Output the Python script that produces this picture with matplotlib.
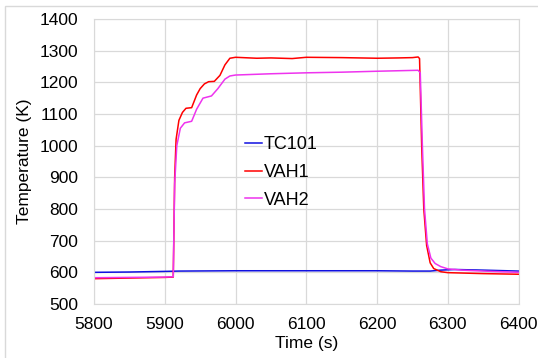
#!/usr/bin/env python3
"""
    Temperature traces TC101 / VAH1 / VAH2 vs time
"""

import numpy as np
from matplotlib import pyplot as plt
from matplotlib.patches import Rectangle

plt.rcParams['font.family'] = ['Liberation Sans', 'DejaVu Sans']

# TC101 (blue)
tc_t = [5800, 5850, 5900, 5920, 6000, 6100, 6200, 6250, 6275, 6290, 6310, 6350, 6400]
tc_T = [600, 601, 603, 604, 605, 605, 605, 604, 604, 607, 609, 607, 604]

# VAH1 (red)
v1_t = [5800, 5850, 5900, 5912, 5914, 5916, 5920, 5925, 5930, 5938, 5945, 5950,
        5956, 5962, 5970, 5978, 5985, 5992, 6000, 6030, 6050, 6080, 6100, 6150,
        6200, 6230, 6250, 6258, 6260, 6263, 6266, 6270, 6275, 6280, 6290, 6300,
        6350, 6400]
v1_T = [580, 582, 584, 585, 900, 1020, 1080, 1105, 1118, 1120, 1160, 1180,
        1195, 1202, 1203, 1222, 1255, 1276, 1279, 1276, 1277, 1275, 1279, 1278,
        1276, 1277, 1278, 1280, 1275, 1000, 800, 685, 630, 612, 602, 599,
        596, 594]

# VAH2 (magenta)
v2_t = [5800, 5900, 5912, 5914, 5917, 5922, 5928, 5938, 5945, 5954, 5966, 5975,
        5985, 5992, 6000, 6050, 6100, 6150, 6200, 6258, 6261, 6264, 6267, 6271,
        6276, 6282, 6290, 6300, 6320, 6350, 6400]
v2_T = [583, 585, 586, 880, 1000, 1055, 1072, 1077, 1115, 1150, 1157, 1180,
        1210, 1220, 1223, 1227, 1230, 1232, 1235, 1238, 1230, 1000, 800, 690,
        645, 628, 618, 611, 607, 604, 600]

GRID = '#D9D9D9'
FS = 12.5

fig = plt.figure(figsize=(5.38, 3.58), dpi=100)
ax = fig.add_axes([0.1747, 0.1508, 0.7893, 0.7962])

# outer chart frame
fig.patches.append(Rectangle((5/538, -0.1), 1.2, 1 - 6/358 + 0.1,
                             transform=fig.transFigure, fill=False,
                             edgecolor=GRID, linewidth=1))

ax.plot(tc_t, tc_T, color='#1010E0', lw=1.1, label='TC101')
ax.plot(v1_t, v1_T, color='#FF0000', lw=1.1, label='VAH1')
ax.plot(v2_t, v2_T, color='#EE33EE', lw=1.1, label='VAH2')

ax.set_xlim(5800, 6400)
ax.set_ylim(500, 1400)
ax.set_xticks(np.arange(5800, 6401, 100))
ax.set_yticks(np.arange(500, 1401, 100))
ax.grid(True, color=GRID, lw=0.9)
ax.set_axisbelow(True)
for s in ax.spines.values():
    s.set_color(GRID)
ax.tick_params(length=0, labelsize=FS, pad=9)
ax.tick_params(axis='y', pad=11.5)

ax.set_xlabel('Time (s)', fontsize=FS, labelpad=3)
ax.set_ylabel('Temperature (K)', fontsize=FS, labelpad=5)

ax.legend(loc='upper left', bbox_to_anchor=(245/538, 1 - 136/358),
          bbox_transform=fig.transFigure, frameon=False, fontsize=13,
          handlelength=0.95, handletextpad=0.1, labelspacing=0.6,
          borderpad=0, borderaxespad=0)

fig.savefig('out.png', dpi=100)
